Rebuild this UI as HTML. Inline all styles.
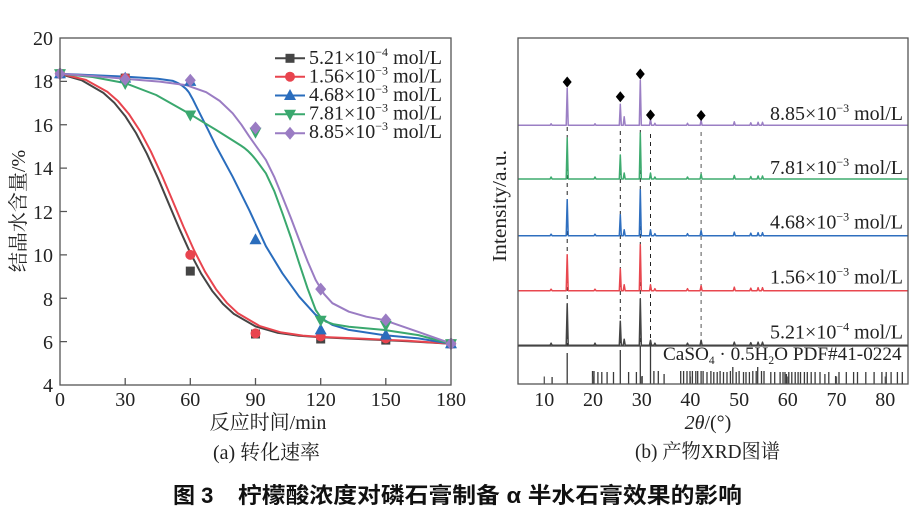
<!DOCTYPE html>
<html><head><meta charset="utf-8"><style>body{margin:0;background:#fff}svg{display:block}</style></head>
<body>
<svg width="922" height="516" xmlns="http://www.w3.org/2000/svg" xmlns:xlink="http://www.w3.org/1999/xlink" font-family="'Liberation Serif','Noto Serif CJK SC',serif" font-size="20" fill="#222">
<rect x="0" y="0" width="922" height="516" fill="#fff"/>
<defs>
<rect id="ms" x="-4.5" y="-4.5" width="9" height="9"/>
<circle id="mc" cx="0" cy="0" r="5"/>
<path id="mu" d="M0,-6.5L6,4.5L-6,4.5Z"/>
<path id="md" d="M-6,-4.5L6,-4.5L0,6.5Z"/>
<path id="mm" d="M0,-6.5L5.5,0L0,6.5L-5.5,0Z"/>
<path id="mk" d="M0,-5.5L4.5,0L0,5.5L-4.5,0Z"/>
</defs>

<!-- ===== LEFT CHART CURVES ===== -->
<g fill="none" stroke-width="2" stroke-linejoin="round">
<path stroke="#454545" d="M60,74 L81.7,80.3 L103.4,92.9 L114.3,102.8 L125.2,116.1 L136,133 L146.9,153.8 L157.8,177.7 L168.6,203.3 L179.5,229.1 L190.3,252.9 L201.2,273.7 L212.1,290.7 L222.9,303.9 L233.8,313.9 L255.5,326.4 L277.2,332.7 L298.9,335.8 L320.7,337.3 L364.1,339.2 L407.6,341.2 L451,343.8"/>
<path stroke="#e8444e" d="M60,73.6 L85.6,79.8 L107.3,91.8 L118.2,101.3 L129.1,114.3 L139.9,130.8 L150.8,151.3 L161.7,175 L172.5,200.5 L183.4,226.5 L194.2,250.6 L205.1,271.8 L216,289.2 L226.8,302.8 L237.7,313.1 L259.4,325.9 L281.1,332.4 L302.8,335.6 L320.7,336.9 L364.1,338.8 L407.6,340.8 L451,343.8"/>
<path stroke="#2a6dbd" d="M60,73.8 L125.2,76.6 L157.8,78.8 L173,80.9 Q184,85 189,92.5 L192.5,98.7 L199.5,112.8 L207.7,129.1 L216.2,146.4 L232.7,176.8 L249.4,210.4 L265.9,246.2 L282.4,273.3 L299.2,296.7 L315.7,314.9 L332.4,324.9 L348.9,329.9 L383.7,335.1 L418.4,338.4 L451,343.8"/>
<path stroke="#3aa86e" d="M60,73.8 L92.6,77 L125.2,83.1 L156.2,95 L190.3,114.3 L216.2,130 L232.7,140.4 L241,145.6 Q249.4,150.8 257.6,162 L265.9,173.3 L274.2,190.9 L282.4,213.2 L290.9,237.5 L299.2,263.3 L307.6,288.5 L315.7,310 L320.7,317.3 L325.7,321.5 L333.7,324.3 L348.9,326.7 L383.7,329.9 L418.4,335.1 L451,343.8"/>
<path stroke="#9a7cc3" d="M60,73.8 L92.6,76 L125.2,78.8 L159.7,81.6 L186,85.1 L206.2,92.2 L219.7,100.9 L232.7,113.3 L241.4,124.7 L249.4,136.7 L265.9,159.9 L274.2,176.8 L282.4,196.8 L290.9,218 L299.2,239.9 L307.6,261.4 L315.7,280 L324,293.9 L332.4,303.2 L348.9,311.7 L366.3,316.7 L375,318.3 Q383.7,319.9 392,322.8 L418.4,331.9 L451,343.4"/>
</g>

<!-- markers -->
<g fill="#454545">
<use xlink:href="#ms" x="60" y="73.8"/><use xlink:href="#ms" x="125.2" y="78.1"/><use xlink:href="#ms" x="190.3" y="271.1"/><use xlink:href="#ms" x="255.5" y="334"/><use xlink:href="#ms" x="320.7" y="339"/><use xlink:href="#ms" x="385.8" y="340.1"/><use xlink:href="#ms" x="451" y="343.8"/>
</g>
<g fill="#e8444e">
<use xlink:href="#mc" x="60" y="73.8"/><use xlink:href="#mc" x="125.2" y="78.1"/><use xlink:href="#mc" x="190.3" y="254.9"/><use xlink:href="#mc" x="255.5" y="333.4"/><use xlink:href="#mc" x="320.7" y="336.4"/><use xlink:href="#mc" x="385.8" y="338.4"/><use xlink:href="#mc" x="451" y="343.8"/>
</g>
<g fill="#2a6dbd">
<use xlink:href="#mu" x="60" y="73.8"/><use xlink:href="#mu" x="125.2" y="78.1"/><use xlink:href="#mu" x="190.3" y="81.4"/><use xlink:href="#mu" x="255.5" y="239.7"/><use xlink:href="#mu" x="320.7" y="329.9"/><use xlink:href="#mu" x="385.8" y="335.1"/><use xlink:href="#mu" x="451" y="343.8"/>
</g>
<g fill="#3aa86e">
<use xlink:href="#md" x="60" y="73.8"/><use xlink:href="#md" x="125.2" y="83.5"/><use xlink:href="#md" x="190.3" y="115"/><use xlink:href="#md" x="255.5" y="132.3"/><use xlink:href="#md" x="320.7" y="320.2"/><use xlink:href="#md" x="385.8" y="325.4"/><use xlink:href="#md" x="451" y="343.8"/>
</g>
<g fill="#9a7cc3">
<use xlink:href="#mm" x="60" y="73.8"/><use xlink:href="#mm" x="125.2" y="79.2"/><use xlink:href="#mm" x="190.3" y="80.3"/><use xlink:href="#mm" x="255.5" y="128"/><use xlink:href="#mm" x="320.7" y="289.1"/><use xlink:href="#mm" x="385.8" y="319.9"/><use xlink:href="#mm" x="451" y="343.8"/>
</g>

<!-- ===== RIGHT CHART ===== -->
<path fill="none" stroke="#3a3a3a" stroke-width="1.3" d="M552.1,384v-7M567.2,384v-31M592.5,384v-13M594,384v-13M597.9,384v-12M601.8,384v-12M607.1,384v-12M613.5,384v-12M620.3,384v-34M628.6,384v-12M636.4,384v-12M640.3,384v-38M642.2,384v-8M650.5,384v-38M653.9,384v-13M658.3,384v-13M664.1,384v-10M680.7,384v-13M683.6,384v-13M687,384v-13M690,384v-13M692.4,384v-13M695.8,384v-13M697.7,384v-13M701.1,384v-13M703.1,384v-13M707,384v-12M710.9,384v-13M713.8,384v-12M717.2,384v-12M720.1,384v-13M723.5,384v-12M727,384v-12M730.4,384v-13M732.8,384v-17M736.2,384v-12M739.1,384v-13M743.5,384v-12M746,384v-12M749.4,384v-12M752.8,384v-13M756.2,384v-13M757.7,384v-17M761.5,384v-13M764,384v-13M770.8,384v-12M774.7,384v-12M780.1,384v-12M783,384v-12M785,384v-12M786.4,384v-10M788.8,384v-12M791.8,384v-12M795.2,384v-12M798.1,384v-12M800.5,384v-12M804.4,384v-12M807.3,384v-12M811.2,384v-12M815.1,384v-12M820,384v-12M824.9,384v-10M828.8,384v-12M835.6,384v-8M839,384v-12M846.3,384v-12M853.6,384v-12M857.5,384v-12M865.8,384v-12M874.1,384v-12M881.9,384v-12M886.2,384v-12M891.1,384v-12M897.4,384v-12M902.3,384v-12"/>
<g stroke-width="1" stroke-dasharray="4,4" fill="none">
<path stroke="#222" d="M567.2,127V346M620.3,131V346M640.3,130V346M650.5,134V346"/>
<path stroke="#555" d="M701.1,132V346"/>
</g>
<g fill="none" stroke-width="1.5" stroke-linejoin="round">
<path stroke="#9b7fc4" d="M518,125.3 H550.1 l1,-1.5 l1,1.5 H566.2 l1,-37 l1,37 H594 l1,-1.5 l1,1.5 H619.3 l1,-21 l1,21 H623.2 l1,-8.5 l1,8.5 H639.3 l1,-45 l1,45 H649.5 l1,-6 l1,6 H653.9 l1,-2 l1,2 H686.5 l1,-2 l1,2 H700.1 l1,-5 l1,5 H733.3 l1,-3.5 l1,3.5 H749.8 l1,-2.5 l1,2.5 H757.1 l1,-3 l1,3 H761.5 l1,-3 l1,3 H908"/>
<path stroke="#3eab6f" d="M518,179 H550.1 l1,-2 l1,2 H566.2 l1,-41 l1,41 H594 l1,-2 l1,2 H619.3 l1,-24 l1,24 H623.2 l1,-6 l1,6 H639.3 l1,-46 l1,46 H649.5 l1,-6 l1,6 H653.9 l1,-2 l1,2 H686.5 l1,-2 l1,2 H700.1 l1,-5 l1,5 H733.3 l1,-3.5 l1,3.5 H749.8 l1,-2.5 l1,2.5 H757.1 l1,-3 l1,3 H761.5 l1,-3 l1,3 H908"/>
<path stroke="#2f6fbf" d="M518,235.7 H550.1 l1,-1.5 l1,1.5 H566.2 l1,-36 l1,36 H594 l1,-1.5 l1,1.5 H619.3 l1,-21 l1,21 H623.2 l1,-6 l1,6 H639.3 l1,-46 l1,46 H649.5 l1,-6 l1,6 H653.9 l1,-2 l1,2 H686.5 l1,-2 l1,2 H700.1 l1,-5 l1,5 H733.3 l1,-3.5 l1,3.5 H749.8 l1,-2.5 l1,2.5 H757.1 l1,-3 l1,3 H761.5 l1,-3 l1,3 H908"/>
<path stroke="#e8474f" d="M518,290.7 H550.1 l1,-1.5 l1,1.5 H566.2 l1,-36 l1,36 H594 l1,-1.5 l1,1.5 H619.3 l1,-22 l1,22 H623.2 l1,-6 l1,6 H639.3 l1,-46 l1,46 H649.5 l1,-6 l1,6 H653.9 l1,-2 l1,2 H686.5 l1,-2 l1,2 H700.1 l1,-5 l1,5 H733.3 l1,-3.5 l1,3.5 H749.8 l1,-2.5 l1,2.5 H757.1 l1,-3 l1,3 H761.5 l1,-3 l1,3 H908"/>
<path stroke="#444" d="M518,345.2 H550.1 l1,-2 l1,2 H566.2 l1,-41 l1,41 H594 l1,-2 l1,2 H619.3 l1,-24 l1,24 H623.2 l1,-6 l1,6 H639.3 l1,-46 l1,46 H649.5 l1,-5 l1,5 H653.9 l1,-2 l1,2 H686.5 l1,-2 l1,2 H700.1 l1,-5 l1,5 H733.3 l1,-3 l1,3 H749.8 l1,-2.5 l1,2.5 H757.1 l1,-3 l1,3 H761.5 l1,-3 l1,3 H908"/>
</g>
<g fill="#000">
<use xlink:href="#mk" x="567.2" y="82"/><use xlink:href="#mk" x="620.3" y="96.7"/><use xlink:href="#mk" x="640.3" y="74"/><use xlink:href="#mk" x="650.5" y="115"/><use xlink:href="#mk" x="701.1" y="115.5"/>
</g>

<!-- frames -->
<rect x="60" y="38" width="391" height="347" fill="none" stroke="#555" stroke-width="1.3"/>
<rect x="518" y="38" width="390" height="346" fill="none" stroke="#555" stroke-width="1.3"/>
<line x1="518" y1="346" x2="908" y2="346" stroke="#444" stroke-width="1.3"/>
<path fill="none" stroke="#555" stroke-width="1.3" d="M125.2,385v-7M190.3,385v-7M255.5,385v-7M320.7,385v-7M385.8,385v-7M60,341.6h7M60,298.25h7M60,254.9h7M60,211.5h7M60,168.1h7M60,124.75h7M60,81.4h7M544.3,384v-7.5M593,384v-7.5M641.7,384v-7.5M690.4,384v-7.5M739.1,384v-7.5M787.8,384v-7.5M836.5,384v-7.5M885.3,384v-7.5"/>

<g text-anchor="end">
<text x="53" y="45">20</text>
<text x="53" y="88">18</text>
<text x="53" y="132">16</text>
<text x="53" y="175">14</text>
<text x="53" y="219">12</text>
<text x="53" y="262">10</text>
<text x="53" y="306">8</text>
<text x="53" y="349">6</text>
<text x="53" y="392">4</text>
</g>
<g text-anchor="middle">
<text x="60" y="406">0</text>
<text x="125.2" y="406">30</text>
<text x="190.3" y="406">60</text>
<text x="255.5" y="406">90</text>
<text x="320.7" y="406">120</text>
<text x="385.8" y="406">150</text>
<text x="451" y="406">180</text>
</g>
<g text-anchor="middle">
<text x="544.3" y="406">10</text>
<text x="593" y="406">20</text>
<text x="641.7" y="406">30</text>
<text x="690.4" y="406">40</text>
<text x="739.1" y="406">50</text>
<text x="787.8" y="406">60</text>
<text x="836.5" y="406">70</text>
<text x="885.3" y="406">80</text>
</g>

<text transform="translate(25,211) rotate(-90)" text-anchor="middle">结晶水含量/%</text>
<text transform="translate(506,206) rotate(-90)" text-anchor="middle" textLength="112" lengthAdjust="spacingAndGlyphs">Intensity/a.u.</text>

<text x="268" y="429" text-anchor="middle">反应时间/min</text>
<text x="213" y="459" textLength="107" lengthAdjust="spacingAndGlyphs">(a) 转化速率</text>
<text x="708" y="429" text-anchor="middle"><tspan font-style="italic">2θ</tspan>/(°)</text>
<text x="635" y="458" textLength="145" lengthAdjust="spacingAndGlyphs">(b) 产物XRD图谱</text>

<g font-family="'Liberation Sans','Noto Sans CJK SC',sans-serif" font-weight="bold" font-size="22" fill="#111">
<text x="173" y="503">图 3</text>
<text x="238" y="503" textLength="504" lengthAdjust="spacingAndGlyphs">柠檬酸浓度对磷石膏制备 α 半水石膏效果的影响</text>
</g>

<g stroke-width="2">
<line x1="275" y1="58.3" x2="305" y2="58.3" stroke="#454545"/>
<line x1="275" y1="76.7" x2="305" y2="76.7" stroke="#e8444e"/>
<line x1="275" y1="95.5" x2="305" y2="95.5" stroke="#2a6dbd"/>
<line x1="275" y1="114.3" x2="305" y2="114.3" stroke="#3aa86e"/>
<line x1="275" y1="133.3" x2="305" y2="133.3" stroke="#9a7cc3"/>
</g>
<use xlink:href="#ms" x="290" y="58.3" fill="#454545"/>
<use xlink:href="#mc" x="290" y="76.7" fill="#e8444e"/>
<use xlink:href="#mu" x="290" y="95.5" fill="#2a6dbd"/>
<use xlink:href="#md" x="290" y="114.3" fill="#3aa86e"/>
<use xlink:href="#mm" x="290" y="133.3" fill="#9a7cc3"/>
<g>
<text x="309" y="64">5.21×10<tspan dy="-8" font-size="12">−4</tspan><tspan dy="8"> mol/L</tspan></text>
<text x="309" y="82.5">1.56×10<tspan dy="-8" font-size="12">−3</tspan><tspan dy="8"> mol/L</tspan></text>
<text x="309" y="101">4.68×10<tspan dy="-8" font-size="12">−3</tspan><tspan dy="8"> mol/L</tspan></text>
<text x="309" y="119.5">7.81×10<tspan dy="-8" font-size="12">−3</tspan><tspan dy="8"> mol/L</tspan></text>
<text x="309" y="138">8.85×10<tspan dy="-8" font-size="12">−3</tspan><tspan dy="8"> mol/L</tspan></text>
</g>

<g text-anchor="end">
<text x="903" y="120">8.85×10<tspan dy="-8" font-size="12">−3</tspan><tspan dy="8"> mol/L</tspan></text>
<text x="903" y="174">7.81×10<tspan dy="-8" font-size="12">−3</tspan><tspan dy="8"> mol/L</tspan></text>
<text x="903" y="228.5">4.68×10<tspan dy="-8" font-size="12">−3</tspan><tspan dy="8"> mol/L</tspan></text>
<text x="903" y="283.5">1.56×10<tspan dy="-8" font-size="12">−3</tspan><tspan dy="8"> mol/L</tspan></text>
<text x="903" y="338.5">5.21×10<tspan dy="-8" font-size="12">−4</tspan><tspan dy="8"> mol/L</tspan></text>
</g>
<text x="663" y="360" font-size="19.2">CaSO<tspan dy="4" font-size="11.5">4</tspan><tspan dy="-4"> · 0.5H</tspan><tspan dy="4" font-size="11.5">2</tspan><tspan dy="-4">O PDF#41-0224</tspan></text>
</svg>
</body></html>
